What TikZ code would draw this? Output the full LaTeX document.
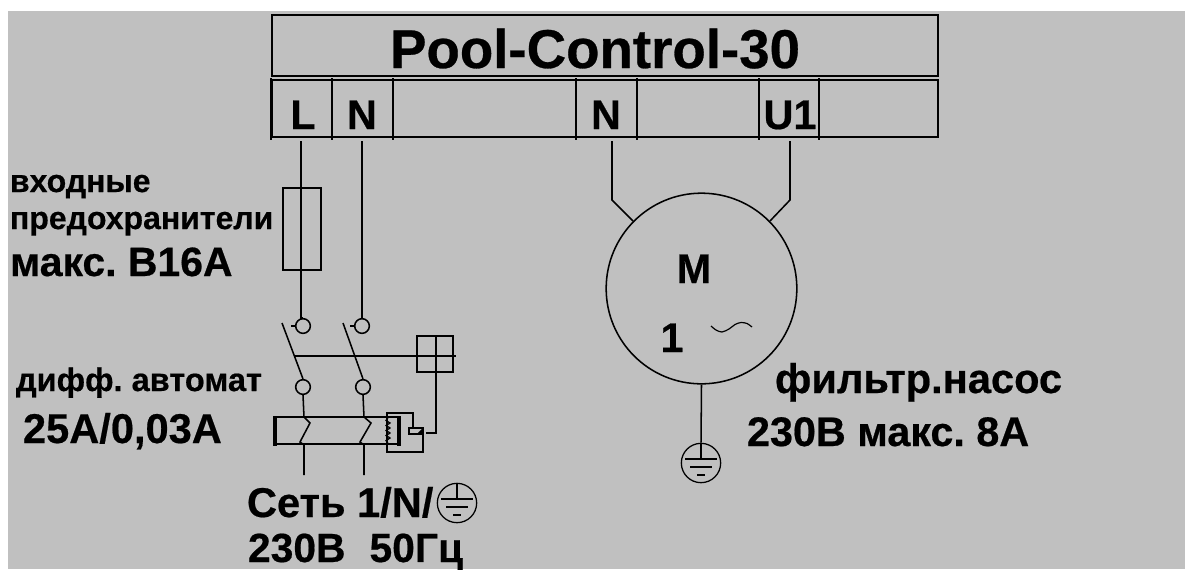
\documentclass[tikz,border=0pt]{standalone}
\usepackage{fontspec}
\setmainfont[BoldFeatures={FakeBold=0.5}]{Liberation Sans}
\definecolor{panel}{HTML}{C0C0C0}
\newcommand{\fsize}[1]{\fontsize{#1pt}{#1pt}\selectfont\bfseries\frenchspacing}
\tikzset{
  wire/.style={draw=black,line width=1.15pt},
  thin wire/.style={draw=black,line width=0.95pt},
  thickbar/.style={draw=black,line width=2.7pt},
  frame/.style={draw=black,line width=1.35pt},
  term/.style={circle,draw=black,line width=1.15pt,minimum size=11pt,inner sep=0pt},
  lab/.style={anchor=base west,inner sep=0pt,outer sep=0pt,text=black},
  cell/.style={anchor=base,inner sep=0pt,outer sep=0pt,text=black},
  pics/earth/.style={code={
    \node[circle,draw=black,line width=0.95pt,minimum size=29.5pt,inner sep=0pt] (-c) at (0,0) {};
    \draw[thin wire] (0,-20) -- (0,-4);
    \draw[thin wire] (-16,-4) -- (16,-4);
    \draw[thin wire] (-11,4) -- (11,4);
    \draw[thin wire] (-4,12) -- (4,12);
  }},
}
\begin{document}
\begin{tikzpicture}[x=0.75pt,y=-0.75pt]
\useasboundingbox (0,0) rectangle (1185,569);
\fill[white] (0,0) rectangle (1185,569);
\fill[panel] (8,11) rectangle (1185,569);

% controller
\draw[frame] (272,15) rectangle (938,76);
\draw[frame] (272,80) rectangle (938,137);
\foreach \xx in {271,332,393,576,637,759,819}
  \draw[wire] (\xx,78) -- (\xx,140);
\node[cell] (title) at (595,68) {\fsize{41}Pool-Control-30};
\node[cell] (tL) at (303,129) {\fsize{31}L};
\node[cell] (tN) at (362,129) {\fsize{31}N};
\node[cell] (tN2) at (606,129) {\fsize{31}N};
\node[cell] (tU) at (790,129) {\fsize{31}U1};

% free wire ends below the terminal strip
\coordinate (eL) at (301,141);
\coordinate (eN) at (362,141);
\coordinate (eN2) at (612,141);
\coordinate (eU) at (790,141);

% fuse
\node[draw=black,line width=1pt,minimum width=28.5pt,minimum height=61.5pt,inner sep=0pt] (fuse) at (302,229) {};

% upper contacts
\node[term] (c1) at (303,326) {};
\node[term] (c2) at (362,326) {};
\draw[wire] (eL) -- (301,318) -- (c1.north);
\draw[wire] (eN) -- (c2.north);
\draw[wire] (c1.west) -- +(-4,0);
\draw[wire] (c2.west) -- +(-4,0);

% lower contacts
\node[term] (c3) at (303,387) {};
\node[term] (c4) at (363,387) {};
\coordinate (b1) at (282,323);
\coordinate (b2) at (343,323);
\draw[wire] (b1) -- (c3.north);
\draw[wire] (b2) -- (c4.north);

% test box and link
\node[draw=black,line width=1.15pt,minimum size=27pt,inner sep=0pt] (tb) at (435,354) {};
\coordinate (lk) at (295,356);
\coordinate (lke) at (456,356);
\draw[wire] (lk) -- (lke);
\draw[wire] (436,335) -- (436,433) -- (426,433);

% RCD body
\draw[wire] (275,417) -- (399,417);
\draw[wire] (275,444) -- (399,444);
\draw[thickbar] (275,416) -- (275,446);
\draw[thickbar] (399,416) -- (399,446);
\draw[wire] (c3.south) -- (304,417) -- (310,423) -- (300,442) -- (304,445) -- (304,475);
\draw[wire] (c4.south) -- (364,417) -- (371,423) -- (360,442) -- (364,445) -- (364,475);

% trip coil
\draw[thin wire] plot[smooth] coordinates {(388,418)(386,420.5)(390,423)(386,425.5)(390,428)(386,430.5)(390,433)(386,435.5)(390,438)(386,440.5)(388,443)};
\draw[wire] (413,428) -- (413,413) -- (387,413) -- (387,452) -- (423,452) -- (423,434);
\node[draw=black,line width=1.15pt,minimum width=10.5pt,minimum height=4.5pt,inner sep=0pt] (trip) at (416,431) {};
\fill[black] (trip.north east) -- (trip.south east) -- (trip.south) -- cycle;

% motor
\node[circle,draw=black,line width=1.15pt,minimum size=143pt,inner sep=0pt] (motor) at (701.5,288.5) {};
\draw[wire] (eN2) -- (612,200) -- (633,221);
\draw[wire] (eU) -- (790,200) -- (770,221);
\node[cell] (mm) at (694,283) {\fsize{31}M};
\node[cell] (mone) at (672,352) {\fsize{31}1};
\draw[thin wire,line width=0.9pt] plot[smooth] coordinates {(711,326)(716,330)(722,332)(729,329)(735,324.5)(741,322.5)(747,323.5)(752,327)};
\pic (ge) at (701,463) {earth};
\draw[wire] (motor.south) -- (ge-c.north);

% texts
\node[lab] (t1) at (10,192) {\fsize{24}входные};
\node[lab] (t2) at (10,229) {\fsize{24}предохранители};
\node[lab] (t3) at (10,276) {\fsize{30.7}макс. В16А};
\node[lab] (t4) at (16,391) {\fsize{24.4}дифф. автомат};
\node[lab] (t5) at (23,443) {\fsize{31.2}25А/0,03А};
\node[lab] (t6) at (775,393) {\fsize{31.2}фильтр.насос};
\node[lab] (t7) at (747,446) {\fsize{31}230В макс. 8А};
\node[lab] (t8) at (247,517) {\fsize{31.2}Сеть 1/N/};
\node[lab] (t9) at (248,562) {\fsize{30.6}230В\hspace{18pt}50Гц};
\pic (gn) at (457,503) {earth};
\end{tikzpicture}
\end{document}
